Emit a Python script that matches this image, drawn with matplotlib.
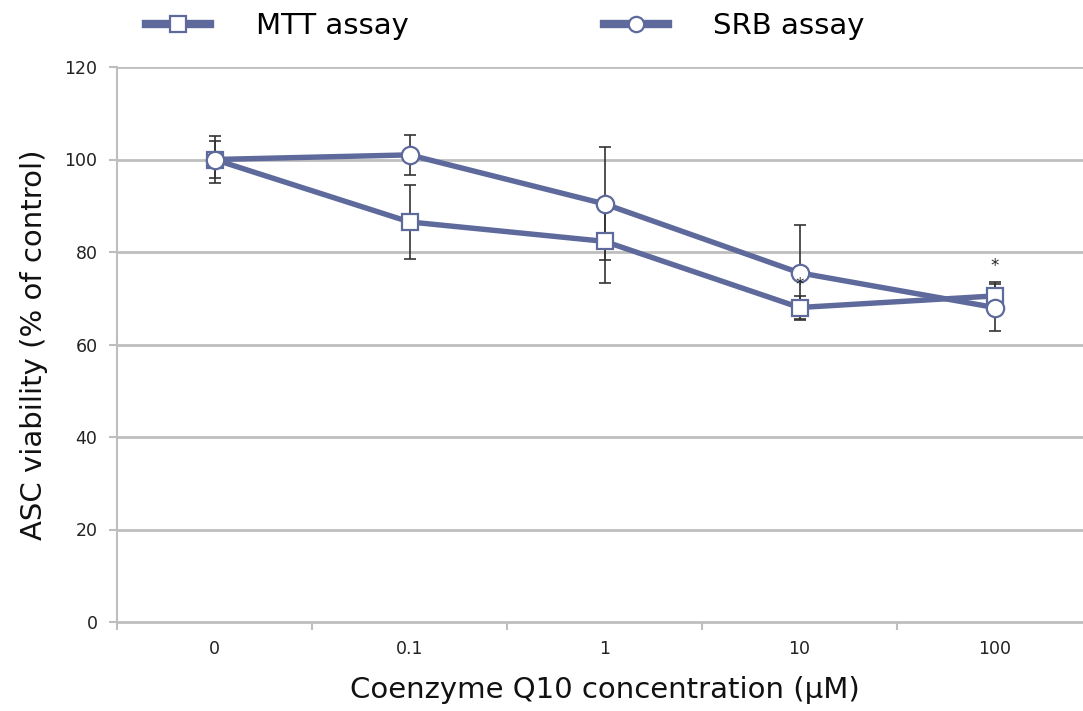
import matplotlib
matplotlib.use("Agg")
import matplotlib.pyplot as plt
import numpy as np

categories = ["0", "0.1", "1", "10", "100"]
mtt_values = [100.0, 86.5, 82.3, 68.0, 70.5]
mtt_err = [5.0, 8.0, 9.0, 2.5, 3.0]
srb_values = [100.0, 101.0, 90.4, 75.5, 68.0]
srb_err = [4.0, 4.4, 12.2, 10.3, 5.0]
star_idx = [3, 4]
star_y = [71.0, 75.0]
y_ticks = [0, 20, 40, 60, 80, 100, 120]

line_color = "#5E6A9C"
grid_color = "#BEBEBE"

fig = plt.figure(figsize=(10.83, 7.11), dpi=100)
ax = fig.add_axes([117/1083, 1-622/711, (1092-117)/1083, (622-67)/711])

x = np.arange(len(categories))
ax.set_xlim(-0.5, len(categories)-0.5)
ax.set_ylim(0, 120)

for yv in y_ticks[1:]:
    ax.axhline(yv, color=grid_color, lw=2, zorder=0)

ax.errorbar(x, mtt_values, yerr=mtt_err, fmt="none", ecolor="#333333", elinewidth=1.2, capsize=4, capthick=1.2, zorder=2)
ax.errorbar(x, srb_values, yerr=srb_err, fmt="none", ecolor="#333333", elinewidth=1.2, capsize=4, capthick=1.2, zorder=2)

ax.plot(x, mtt_values, color=line_color, lw=3.9, marker="s", ms=12, mfc="white", mec=line_color, mew=1.6, zorder=3, label="MTT assay")
ax.plot(x, srb_values, color=line_color, lw=3.9, marker="o", ms=12.5, mfc="white", mec=line_color, mew=1.6, zorder=4, label="SRB assay")

for i, yv in zip(star_idx, star_y):
    ax.text(x[i], yv, "*", ha="center", va="bottom", fontsize=12, color="#222222", zorder=5)

ax.set_yticks(y_ticks)
ax.set_yticklabels([str(v) for v in y_ticks], fontsize=12.5, color="#222222")
ax.set_xticks(x)
ax.set_xticklabels(categories, fontsize=12.5, color="#222222")
ax.set_xticks(np.arange(-0.5, len(categories), 1.0), minor=True)
ax.tick_params(axis="x", which="major", length=0, pad=13)
ax.tick_params(axis="x", which="minor", length=6, color=grid_color, width=1.5)
ax.tick_params(axis="y", length=6, color=grid_color, width=1.5, pad=8)

for s in ["top", "right"]:
    ax.spines[s].set_visible(False)
ax.spines["left"].set_color(grid_color)
ax.spines["left"].set_linewidth(1.5)
ax.spines["bottom"].set_color(grid_color)
ax.spines["bottom"].set_linewidth(2)

ax.set_ylabel("ASC viability (% of control)", fontsize=21, labelpad=12, color="#111111")
ax.set_xlabel("Coenzyme Q10 concentration (\u00b5M)", fontsize=21, labelpad=13, color="#111111")

handles, labels = ax.get_legend_handles_labels()
leg = fig.legend(handles, labels, loc="center left", bbox_to_anchor=(120/1083, 1-26/711), ncol=2,
                 frameon=False, fontsize=21, handlelength=2.2, handletextpad=1.55, columnspacing=6.7)
for h in leg.legend_handles:
    h.set_linewidth(6)
    h.set_markersize(11)

fig.savefig("out.png", dpi=100)
